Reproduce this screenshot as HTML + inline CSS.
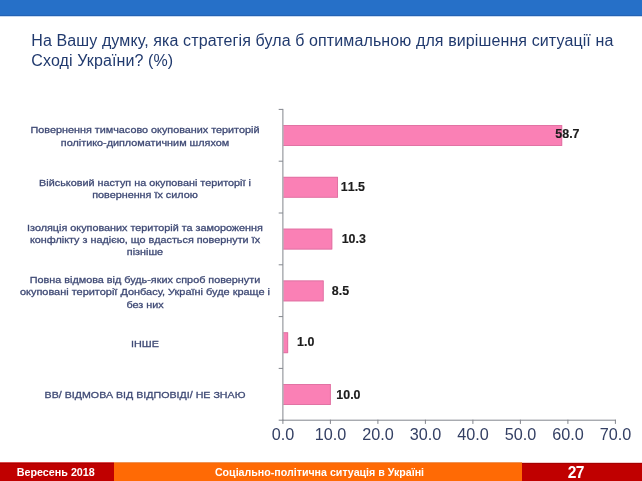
<!DOCTYPE html>
<html lang="uk">
<head>
<meta charset="utf-8">
<title>Слайд 27</title>
<style>
html,body{margin:0;padding:0;}
body{width:642px;height:481px;background:#fff;position:relative;overflow:hidden;font-family:"Liberation Sans","DejaVu Sans",sans-serif;}
.abs{position:absolute;}
#top{left:0;top:0;width:642px;height:17px;background:linear-gradient(#2670c8 0,#2670c8 15px,#2362b4 15px,#2362b4 16px,#c6d9f0 16px,#c6d9f0 17px);}
#title{left:31.3px;top:30.5px;width:605px;font-size:16px;letter-spacing:0.11px;line-height:20px;color:#213a6e;white-space:nowrap;}
.lab{left:0;width:290px;height:12px;text-align:center;font-size:9.7px;line-height:12px;color:#3f4a75;white-space:nowrap;}
.lab>div{transform:scaleX(1.116);-webkit-text-stroke:0.3px #3f4a75;}
.val{font-size:12.45px;-webkit-text-stroke:0.15px #1c1c1c;font-weight:bold;color:#1c1c1c;line-height:14px;font-kerning:none;white-space:nowrap;}
.tick{top:424.3px;font-size:16.2px;color:#344064;line-height:20px;width:60px;text-align:center;font-kerning:none;}
#f0a{left:0;top:462px;width:114px;height:2px;background:linear-gradient(#dc4a4a 0,#dc4a4a 1px,#aa0000 1px,#aa0000 2px);}
#f0b{left:114px;top:462px;width:408px;height:2px;background:linear-gradient(#f29455 0,#f29455 1px,#f86a08 1px,#f86a08 2px);}
#f0c{left:522px;top:462px;width:120px;height:2px;background:linear-gradient(#f2caca 0,#f2caca 1px,#a30000 1px,#a30000 2px);}
#f1{left:0;top:464px;width:114px;height:17px;background:#c00000;}
#f2{left:114px;top:464px;width:408px;height:17px;background:#ff6a05;}
#f3{left:522px;top:464px;width:120px;height:17px;background:#c00000;}
.ft{color:#fff;font-weight:bold;text-align:center;white-space:nowrap;}
</style>
</head>
<body>
<div id="top" class="abs"></div>
<div id="title" class="abs">На Вашу думку, яка стратегія була б оптимальною для вирішення ситуації на<br>Сході України? (%)</div>
<div class="abs lab" style="top:123.64px"><div>Повернення тимчасово окупованих територій</div></div>
<div class="abs lab" style="top:136.64px"><div>політико-дипломатичним шляхом</div></div>
<div class="abs lab" style="top:176.64px"><div>Військовий наступ на окуповані території і</div></div>
<div class="abs lab" style="top:188.64px"><div>повернення їх силою</div></div>
<div class="abs lab" style="top:221.64px"><div>Ізоляція окупованих територій та замороження</div></div>
<div class="abs lab" style="top:233.64px"><div>конфлікту з надією, що вдасться повернути їх</div></div>
<div class="abs lab" style="top:245.64px"><div>пізніше</div></div>
<div class="abs lab" style="top:273.64px"><div>Повна відмова від будь-яких спроб повернути</div></div>
<div class="abs lab" style="top:285.64px"><div style="transform:scaleX(1.129)">окуповані території Донбасу, Україні буде краще і</div></div>
<div class="abs lab" style="top:298.64px"><div>без них</div></div>
<div class="abs lab" style="top:337.64px"><div>ІНШЕ</div></div>
<div class="abs lab" style="top:388.64px"><div style="transform:scaleX(1.1)">ВВ/ ВІДМОВА ВІД ВІДПОВІДІ/ НЕ ЗНАЮ</div></div>
<svg class="abs" style="left:0;top:0" width="642" height="481" viewBox="0 0 642 481">
<rect x="283.40" y="125.00" width="278.82" height="21" fill="#fa80b5"/>
<path d="M283.40 125.50H561.72V145.50H283.40" fill="none" stroke="#b85f88" stroke-opacity="0.38" stroke-width="1"/>
<rect x="283.40" y="176.80" width="54.62" height="21" fill="#fa80b5"/>
<path d="M283.40 177.30H337.52V197.30H283.40" fill="none" stroke="#b85f88" stroke-opacity="0.38" stroke-width="1"/>
<rect x="283.40" y="228.60" width="48.93" height="21" fill="#fa80b5"/>
<path d="M283.40 229.10H331.82V249.10H283.40" fill="none" stroke="#b85f88" stroke-opacity="0.38" stroke-width="1"/>
<rect x="283.40" y="280.40" width="40.38" height="21" fill="#fa80b5"/>
<path d="M283.40 280.90H323.27V300.90H283.40" fill="none" stroke="#b85f88" stroke-opacity="0.38" stroke-width="1"/>
<rect x="283.40" y="332.20" width="4.75" height="21" fill="#fa80b5"/>
<path d="M283.40 332.70H287.65V352.70H283.40" fill="none" stroke="#b85f88" stroke-opacity="0.38" stroke-width="1"/>
<rect x="283.40" y="384.00" width="47.50" height="21" fill="#fa80b5"/>
<path d="M283.40 384.50H330.40V404.50H283.40" fill="none" stroke="#b85f88" stroke-opacity="0.38" stroke-width="1"/>
<g stroke="#82868d" stroke-width="1" fill="none">
<line x1="282.9" y1="108.9" x2="282.9" y2="420.70"/>
<line x1="278.70" y1="109.40" x2="282.9" y2="109.40"/>
<line x1="278.70" y1="161.20" x2="282.9" y2="161.20"/>
<line x1="278.70" y1="213.00" x2="282.9" y2="213.00"/>
<line x1="278.70" y1="264.80" x2="282.9" y2="264.80"/>
<line x1="278.70" y1="316.60" x2="282.9" y2="316.60"/>
<line x1="278.70" y1="368.40" x2="282.9" y2="368.40"/>
<line x1="278.70" y1="420.20" x2="282.9" y2="420.20"/>
<line x1="282.9" y1="420.20" x2="615.90" y2="420.20"/>
<line x1="282.90" y1="419.70" x2="282.90" y2="423.90"/>
<line x1="330.40" y1="419.70" x2="330.40" y2="423.90"/>
<line x1="377.90" y1="419.70" x2="377.90" y2="423.90"/>
<line x1="425.40" y1="419.70" x2="425.40" y2="423.90"/>
<line x1="472.90" y1="419.70" x2="472.90" y2="423.90"/>
<line x1="520.40" y1="419.70" x2="520.40" y2="423.90"/>
<line x1="567.90" y1="419.70" x2="567.90" y2="423.90"/>
<line x1="615.40" y1="419.70" x2="615.40" y2="423.90"/>
</g></svg>
<div class="abs val" style="left:555.30px;top:127.00px">58.7</div>
<div class="abs val" style="left:340.80px;top:180.40px">11.5</div>
<div class="abs val" style="left:341.70px;top:232.10px">10.3</div>
<div class="abs val" style="left:331.80px;top:283.60px">8.5</div>
<div class="abs val" style="left:297.10px;top:335.20px">1.0</div>
<div class="abs val" style="left:336.30px;top:388.00px">10.0</div>
<div class="abs tick" style="left:252.90px">0.0</div>
<div class="abs tick" style="left:300.40px">10.0</div>
<div class="abs tick" style="left:347.90px">20.0</div>
<div class="abs tick" style="left:395.40px">30.0</div>
<div class="abs tick" style="left:442.90px">40.0</div>
<div class="abs tick" style="left:490.40px">50.0</div>
<div class="abs tick" style="left:537.90px">60.0</div>
<div class="abs tick" style="left:585.40px">70.0</div>
<div id="f0a" class="abs"></div><div id="f0b" class="abs"></div><div id="f0c" class="abs"></div>
<div id="f1" class="abs"></div><div id="f2" class="abs"></div><div id="f3" class="abs"></div>
<div class="abs ft" style="left:0;top:464.8px;width:111.5px;font-size:10.75px;line-height:14px">Вересень 2018</div>
<div class="abs ft" style="left:114px;top:464.8px;width:411px;font-size:10.65px;line-height:14px">Соціально-політична ситуація в Україні</div>
<div class="abs ft" style="left:515.8px;top:463.7px;width:120px;font-size:15.6px;letter-spacing:-0.65px;line-height:18px">27</div>
</body>
</html>
